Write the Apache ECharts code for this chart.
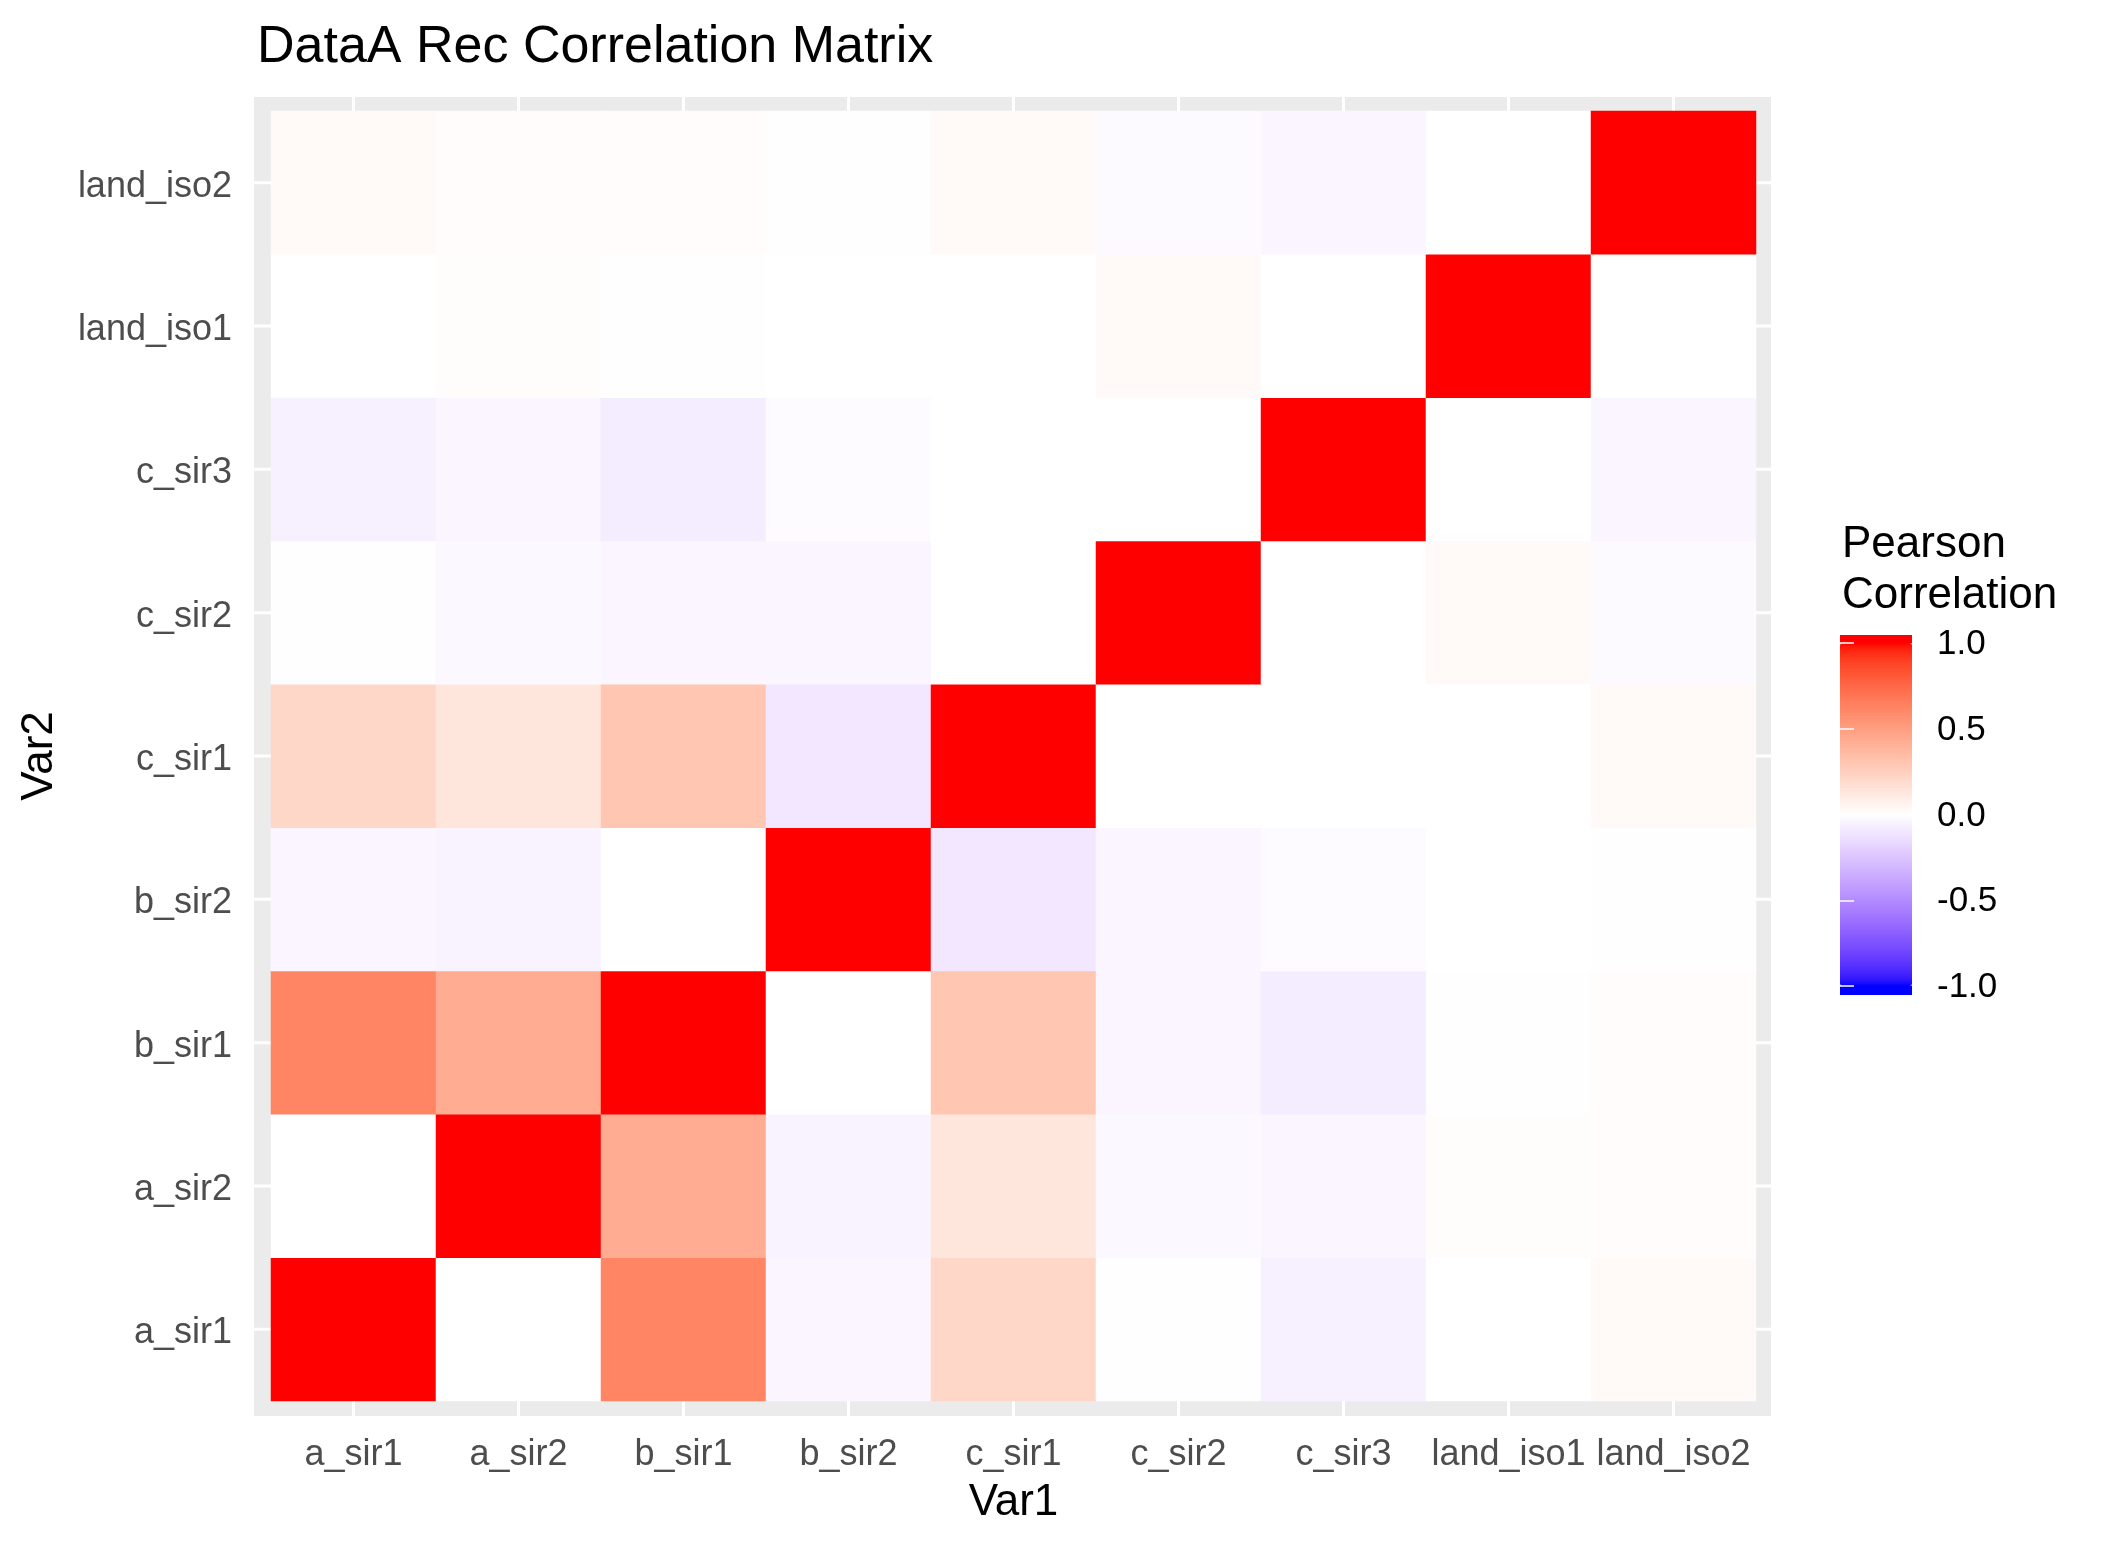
<!DOCTYPE html>
<html>
<head>
<meta charset="utf-8">
<script src="https://cdn.jsdelivr.net/npm/echarts@6/dist/echarts.min.js"></script>
<style>
  html, body { margin: 0; padding: 0; background: #fff; }
  #chart { width: 2112px; height: 1549px; }
</style>
</head>
<body>
<div id="chart"></div>
<script>
// variables, same order on both axes
const categories = ['a_sir1', 'a_sir2', 'b_sir1', 'b_sir2', 'c_sir1', 'c_sir2', 'c_sir3', 'land_iso1', 'land_iso2'];

// one row of the correlation matrix per Var2 level (columns follow categories)
const row_a_sir1    = [1,     0,     0.62,  -0.04, 0.21,  -0.01,  -0.06,  0,      0.03];
const row_a_sir2    = [0,     1,     0.43,  -0.05, 0.13,  -0.03,  -0.04,  0.01,   0.015];
const row_b_sir1    = [0.62,  0.43,  1,     0,     0.30,  -0.04,  -0.08,  -0.005, 0.015];
const row_b_sir2    = [-0.04, -0.05, 0,     1,     -0.10, -0.04,  -0.015, 0,      0.005];
const row_c_sir1    = [0.21,  0.13,  0.30,  -0.10, 1,     0,      0,      0,      0.03];
const row_c_sir2    = [-0.01, -0.03, -0.04, -0.04, 0,     1,      0,      0.025,  -0.02];
const row_c_sir3    = [-0.06, -0.04, -0.08, -0.015, 0,    0,      1,      0,      -0.04];
const row_land_iso1 = [0,     0.01,  -0.005, 0,    0,     0.025,  0,      1,      0];
const row_land_iso2 = [0.03,  0.015, 0.015, 0.005, 0.03,  -0.02,  -0.04,  0,      1];

const legendTicks = [-1, -0.5, 0, 0.5, 1];

const rows = [row_a_sir1, row_a_sir2, row_b_sir1, row_b_sir2, row_c_sir1,
              row_c_sir2, row_c_sir3, row_land_iso1, row_land_iso2];

const heatData = [];
rows.forEach(function (row, yi) {
  row.forEach(function (v, xi) { heatData.push([xi, yi, v]); });
});

// blue - white - red diverging palette, interpolated in Lab like ggplot's gradient2
function toLinear(c) { c /= 255; return c <= 0.04045 ? c / 12.92 : Math.pow((c + 0.055) / 1.055, 2.4); }
function toSrgb(c) {
  c = c <= 0.0031308 ? 12.92 * c : 1.055 * Math.pow(c, 1 / 2.4) - 0.055;
  return Math.round(Math.min(1, Math.max(0, c)) * 255);
}
function hexToLab(hex) {
  const r = toLinear(parseInt(hex.slice(1, 3), 16));
  const g = toLinear(parseInt(hex.slice(3, 5), 16));
  const b = toLinear(parseInt(hex.slice(5, 7), 16));
  const X = (0.4124 * r + 0.3576 * g + 0.1805 * b) / 0.95047;
  const Y = 0.2126 * r + 0.7152 * g + 0.0722 * b;
  const Z = (0.0193 * r + 0.1192 * g + 0.9505 * b) / 1.08883;
  const f = function (t) { return t > 0.008856 ? Math.cbrt(t) : 7.787 * t + 16 / 116; };
  const fx = f(X), fy = f(Y), fz = f(Z);
  return [116 * fy - 16, 500 * (fx - fy), 200 * (fy - fz)];
}
function labToHex(lab) {
  const fy = (lab[0] + 16) / 116, fx = fy + lab[1] / 500, fz = fy - lab[2] / 200;
  const inv = function (t) { const t3 = t * t * t; return t3 > 0.008856 ? t3 : (t - 16 / 116) / 7.787; };
  const X = 0.95047 * inv(fx), Y = inv(fy), Z = 1.08883 * inv(fz);
  const r = toSrgb(3.2406 * X - 1.5372 * Y - 0.4986 * Z);
  const g = toSrgb(-0.9689 * X + 1.8758 * Y + 0.0415 * Z);
  const b = toSrgb(0.0557 * X - 0.2040 * Y + 1.0570 * Z);
  return '#' + [r, g, b].map(function (v) { return ('0' + v.toString(16)).slice(-2); }).join('');
}
const labLow = hexToLab('#0000ff'), labMid = hexToLab('#ffffff'), labHigh = hexToLab('#ff0000');
const palette = [];
for (let i = 0; i <= 80; i++) {
  const v = -1 + i / 40;
  const end = v < 0 ? labLow : labHigh;
  const t = Math.abs(v);
  palette.push(labToHex([0, 1, 2].map(function (k) { return labMid[k] + (end[k] - labMid[k]) * t; })));
}

const FONT = '"Liberation Sans", Arial, sans-serif';
const panel = { left: 254, top: 97, right: 1771, bottom: 1416 };

const chart = echarts.init(document.getElementById('chart'));

chart.setOption({
  backgroundColor: '#ffffff',
  animation: false,
  textStyle: { fontFamily: FONT },
  title: [
    {
      text: 'DataA Rec Correlation Matrix',
      left: 257, top: 22, padding: 0,
      textStyle: { fontFamily: FONT, fontSize: 52, fontWeight: 'normal', color: '#000' }
    },
    {
      text: 'Pearson\nCorrelation',
      left: 1842, top: 519, padding: 0,
      textStyle: { fontFamily: FONT, fontSize: 44, fontWeight: 'normal', color: '#000', lineHeight: 51 }
    }
  ],
  grid: [
    { left: 271, top: 111, width: 1485, height: 1290 },
    { left: 1840, top: 643, width: 72, height: 343 }
  ],
  xAxis: [
    {
      type: 'category', data: categories, gridIndex: 0, offset: 15,
      name: 'Var1', nameLocation: 'middle', nameGap: 65,
      nameTextStyle: { fontFamily: FONT, fontSize: 44, color: '#000' },
      axisLine: { show: false },
      axisTick: { alignWithLabel: true, length: 11, lineStyle: { color: '#333', width: 2.7 } },
      axisLabel: { fontSize: 36, color: '#4d4d4d', margin: 21, interval: 0 },
      splitLine: { show: false }
    },
    { type: 'value', gridIndex: 1, show: false, min: 0, max: 1 }
  ],
  yAxis: [
    {
      type: 'category', data: categories, gridIndex: 0, offset: 17,
      name: 'Var2', nameLocation: 'middle', nameGap: 192, nameRotate: 90,
      nameTextStyle: { fontFamily: FONT, fontSize: 44, color: '#000' },
      axisLine: { show: false },
      axisTick: { alignWithLabel: true, length: 11, lineStyle: { color: '#333', width: 2.7 } },
      // a short top-aligned line box nudges the text a few pixels down, as in the original
      axisLabel: { fontSize: 36, color: '#4d4d4d', margin: 22, interval: 0, verticalAlign: 'top', lineHeight: 8 },
      splitLine: { show: false }
    },
    {
      type: 'value', gridIndex: 1, position: 'right', min: legendTicks[0], max: legendTicks[legendTicks.length - 1], interval: 0.5,
      axisLine: { show: false },
      axisTick: { show: true, inside: true, length: 14, lineStyle: { color: '#fff', width: 1.5 } },
      axisLabel: { fontSize: 35, color: '#000', margin: 25, verticalAlign: 'top', lineHeight: 3,
        formatter: function (v) { return v.toFixed(1); } },
      splitLine: { show: false }, z: 5
    },
    {
      type: 'value', gridIndex: 1, position: 'left', min: legendTicks[0], max: legendTicks[legendTicks.length - 1], interval: 0.5,
      axisLine: { show: false },
      axisTick: { show: true, inside: true, length: 14, lineStyle: { color: '#fff', width: 1.5 } },
      axisLabel: { show: false },
      splitLine: { show: false }, z: 5
    }
  ],
  visualMap: {
    type: 'continuous', min: -1, max: 1, seriesIndex: 0,
    orient: 'vertical', left: 1840, top: 643, padding: 0,
    itemWidth: 72, itemHeight: 343,
    calculable: false, text: null, showLabel: false, hoverLink: false,
    inRange: { color: palette }
  },
  series: [
    {
      type: 'heatmap', xAxisIndex: 0, yAxisIndex: 0,
      data: heatData,
      itemStyle: { borderWidth: 0 },
      emphasis: { disabled: true },
      label: { show: false }
    }
  ]
});

// grey panel and its white major grid lines (at the category centres)
const graphics = [{
  type: 'rect', z: -100, silent: true,
  shape: { x: panel.left, y: panel.top, width: panel.right - panel.left, height: panel.bottom - panel.top },
  style: { fill: '#ebebeb' }
}];
categories.forEach(function (c, i) {
  const px = chart.convertToPixel({ xAxisIndex: 0 }, i);
  const py = chart.convertToPixel({ yAxisIndex: 0 }, i);
  graphics.push({ type: 'line', z: -99, silent: true,
    shape: { x1: px, y1: panel.top, x2: px, y2: panel.bottom }, style: { stroke: '#fff', lineWidth: 3 } });
  graphics.push({ type: 'line', z: -99, silent: true,
    shape: { x1: panel.left, y1: py, x2: panel.right, y2: py }, style: { stroke: '#fff', lineWidth: 3 } });
});
// colour bar runs a little past the limits, as in ggplot
graphics.push({ type: 'rect', z: 1, silent: true, shape: { x: 1840, y: 635, width: 72, height: 8.5 }, style: { fill: palette[palette.length - 1] } });
graphics.push({ type: 'rect', z: 1, silent: true, shape: { x: 1840, y: 985.5, width: 72, height: 9.5 }, style: { fill: palette[0] } });

chart.setOption({ graphic: graphics });
</script>
</body>
</html>
